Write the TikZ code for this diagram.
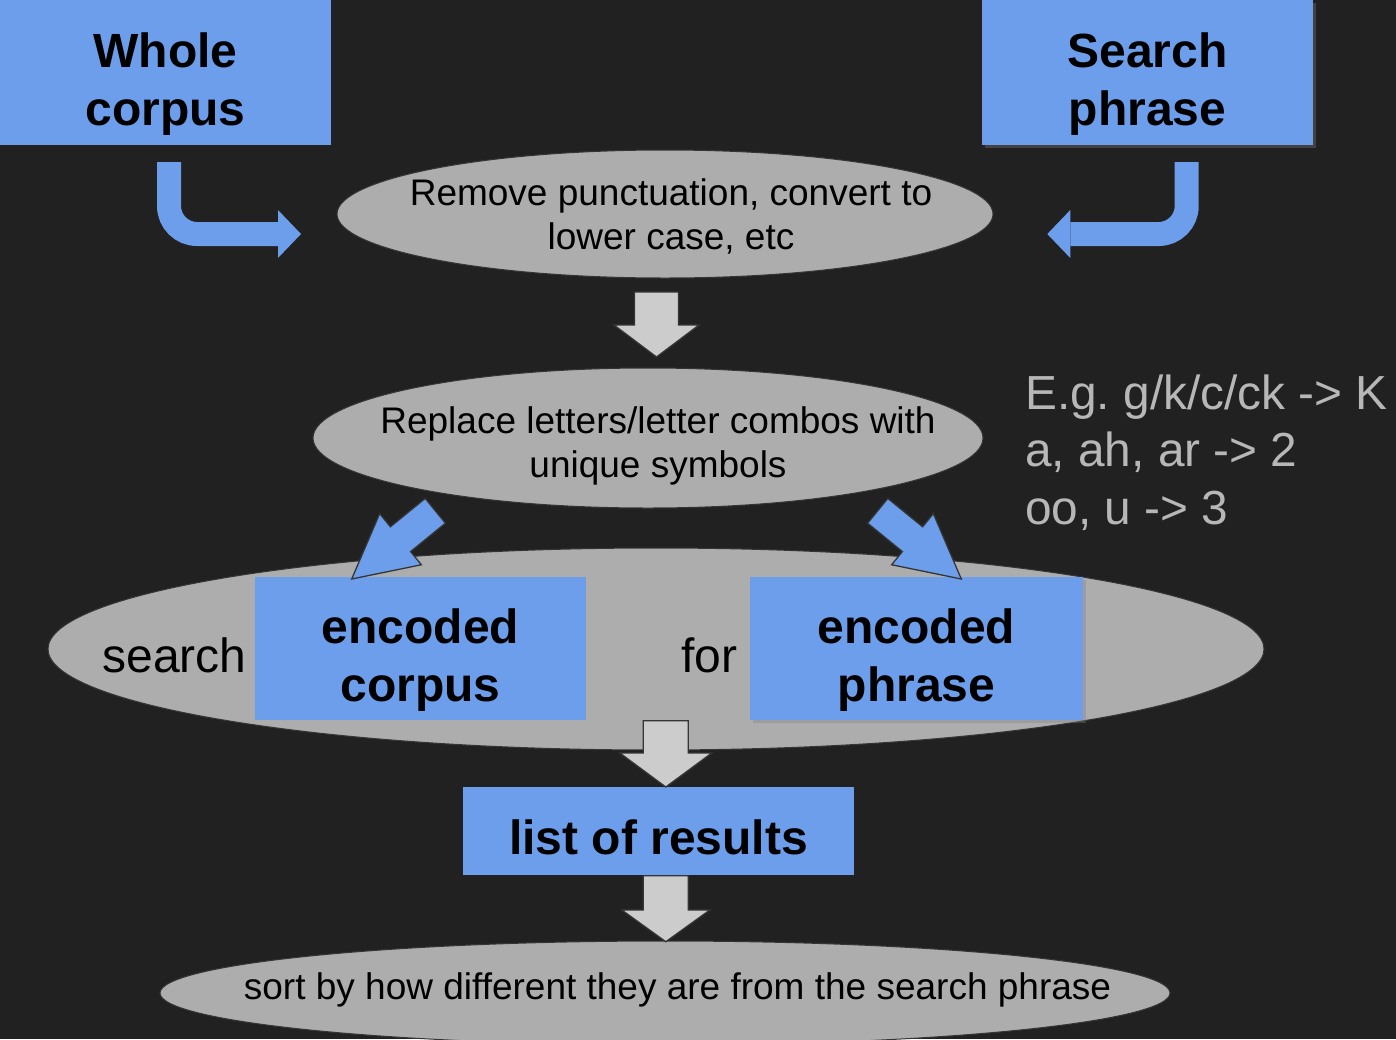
\documentclass[tikz,border=0pt]{standalone}
\usepackage{fontspec}
\setmainfont{Liberation Sans}
\usetikzlibrary{calc,shapes.geometric,arrows.meta,shadows}
\definecolor{bg}{HTML}{212121}
\definecolor{boxblue}{HTML}{6D9EEB}
\definecolor{ovalgrey}{HTML}{ADADAD}
\definecolor{arrowgrey}{HTML}{CCCCCC}
\definecolor{notegrey}{HTML}{B7B7B7}
\definecolor{edge}{HTML}{353535}
% fat block arrow: fill, from, to, shaft half width, head half width, head length
\newcommand{\fatarrow}[6]{%
  \coordinate (fh) at ($(#3)!#6!(#2)$);
  \filldraw[fill=#1, draw=edge, line width=1.3pt, line join=miter]
    ($(#2)!#4!90:(#3)$) -- ($(fh)!#4!-90:(#2)$) -- ($(fh)!#5!-90:(#2)$) -- (#3)
    -- ($(fh)!#5!90:(#2)$) -- ($(fh)!#4!90:(#2)$) -- ($(#2)!#4!-90:(#3)$) -- cycle;
}
\begin{document}
\begin{tikzpicture}[x=1pt, y=-1pt,
  bluebox/.style={fill=boxblue, inner sep=0pt},
  boxtext/.style={inner sep=0pt, align=center, font=\fontsize{48}{58}\selectfont\bfseries},
  shade/.style={drop shadow={shadow xshift=2.5pt, shadow yshift=-2.5pt, opacity=0.35}},
  oval/.style={ellipse, fill=ovalgrey, draw=edge, line width=1pt, inner sep=0pt},
  ovaltext/.style={inner sep=0pt, align=center, font=\fontsize{37}{44}\selectfont},
  bigword/.style={inner sep=0pt, anchor=base, font=\fontsize{48}{58}\selectfont},
  bent/.style={draw=boxblue, line width=24pt, rounded corners=28pt, -{Triangle[width=48pt,length=23pt,line width=0pt]}}]
\fill[bg] (0,0) rectangle (1396,1039);
\useasboundingbox (0,0) rectangle (1396,1039);

\node[bluebox, minimum width=331pt, minimum height=145pt] (whole) at (165.5,72.5) {};
\node[boxtext] (wholetext) at ([yshift=-11.5pt]whole.center) {Whole\\corpus};
\node[bluebox, shade, minimum width=331pt, minimum height=145pt] (phrase) at (1147.5,72.5) {};
\node[boxtext] (phrasetext) at ([yshift=-11.5pt]phrase.center) {Search\\phrase};

\node[oval, minimum width=656pt, minimum height=128pt] (clean) at (665,214) {};
\node[ovaltext] (cleantext) at ([xshift=6pt,yshift=-2pt]clean.center) {Remove punctuation, convert to\\lower case, etc};
\node[oval, minimum width=670pt, minimum height=140pt] (encode) at (648,438) {};
\node[ovaltext] (encodetext) at ([xshift=10pt,yshift=-8pt]encode.center) {Replace letters/letter combos with\\unique symbols};

\node[inner sep=0pt, anchor=west, align=left, text=notegrey, font=\fontsize{47.8}{57.5}\selectfont] (note) at (1025,452.5) {E.g.\ g/k/c/ck -> K\\a, ah, ar -> 2\\oo, u -> 3};

\node[oval, minimum width=1216pt, minimum height=202pt] (match) at (656,649) {};
\node[bluebox, minimum width=331pt, minimum height=143pt] (enccorpus) at (420.5,648.5) {};
\node[boxtext] (enccorpustext) at ([yshift=-12pt]enccorpus.center) {encoded\\corpus};
\node[bluebox, shade, minimum width=333pt, minimum height=143pt] (encphrase) at (916.5,648.5) {};
\node[boxtext] (encphrasetext) at ([yshift=-12pt]encphrase.center) {encoded\\phrase};
\node[bigword] (searchword) at (174.5,672) {search};
\node[bigword] (forword) at (709.5,672) {for};

\node[bluebox, minimum width=391pt, minimum height=88pt] (results) at (658.5,831) {};
\node[boxtext] (resultstext) at ([yshift=-6pt]results.center) {list of results};

\node[oval, minimum width=1010pt, minimum height=104pt] (sort) at (665,993) {};
\node[ovaltext] (sorttext) at (677.5,990) {sort by how different they are from the search phrase};

\coordinate (wholeout) at (169,162);
\coordinate (wholein) at (301,234);
\coordinate (phraseout) at (1186.7,162);
\coordinate (phrasein) at (1047.3,234);
\draw[bent] (wholeout) |- (wholein);
\draw[bent] (phraseout) |- (phrasein);

\coordinate (cleanout) at (656.5,292);
\coordinate (encodein) at (656.5,357);
\fatarrow{arrowgrey}{cleanout}{encodein}{22pt}{42.5pt}{32pt}

\coordinate (leftout) at (435.3,510.8);
\coordinate (leftin) at (351.7,579);
\coordinate (rightout) at (877.7,510.8);
\coordinate (rightin) at (961.3,579);
\fatarrow{boxblue}{leftout}{leftin}{16pt}{33pt}{63pt}
\fatarrow{boxblue}{rightout}{rightin}{16pt}{33pt}{63pt}

\coordinate (matchout) at (665.8,720.7);
\coordinate (resultsin) at (665.8,787);
\fatarrow{arrowgrey}{matchout}{resultsin}{22.5pt}{46pt}{34pt}
\coordinate (resultsout) at (665.8,875.7);
\coordinate (sortin) at (665.8,941.7);
\fatarrow{arrowgrey}{resultsout}{sortin}{22.5pt}{44pt}{31.7pt}
\end{tikzpicture}
\end{document}
